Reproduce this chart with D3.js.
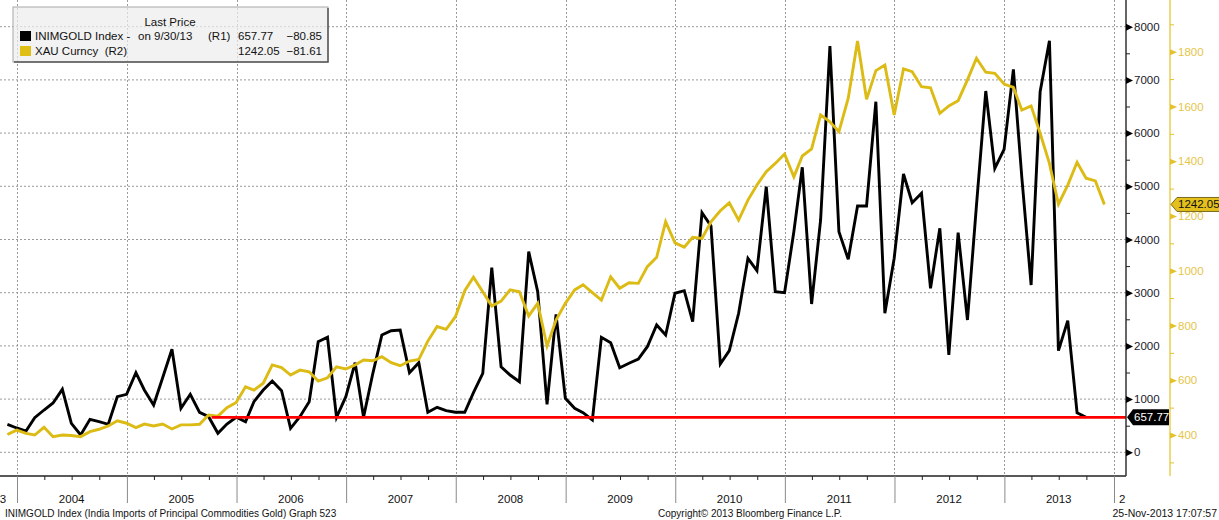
<!DOCTYPE html>
<html>
<head>
<meta charset="utf-8">
<script src="https://cdnjs.cloudflare.com/ajax/libs/d3/7.8.5/d3.min.js"></script>
<style>
body{margin:0;background:#fff;overflow:hidden}
svg{display:block;font-family:"Liberation Sans",Arial,sans-serif}
</style>
</head>
<body>
<svg></svg>
<script>
// monthly data, month-end, first point = Nov 2003
let imports = [526,457,400,650,795,927,1184,545,325,620,575,526,
  1045,1090,1496,1171,889,1400,1936,827,1090,752,669,357,
  532,658,575,951,1171,1340,1158,451,669,951,2079,2162,
  658,1045,1684,658,1485,2205,2286,2299,1496,1684,752,846,
  782,752,752,1120,1485,3470,1609,1453,1327,3771,3019,902,
  2594,1015,827,744,607,2162,2060,1590,1673,1754,1985,2393,
  2205,2989,3038,2455,4504,4254,1660,1910,2613,3647,3414,4992,
  3019,3000,4150,5357,2788,4367,7637,4147,3628,4630,4630,6590,
  2613,3647,5231,4692,4868,3083,4211,1829,4128,2487,4640,6791,
  5338,5695,7199,5170,3144,6778,7737,1910,2474,744,657.77]

let gold = [402,418,406,400,428,394,400,398,394,412,421,433,
  452,443,427,440,433,440,422,437,437,439,473,469,
  500,519,576,564,589,656,646,619,637,631,597,609,
  649,641,656,674,671,686,664,653,670,676,743,796,
  786,832,927,976,923,871,889,930,923,835,881,725,
  820,881,930,949,920,893,978,936,956,954,1015,1049,
  1179,1102,1086,1122,1118,1179,1219,1248,1185,1258,1313,1362,
  1392,1426,1343,1419,1445,1569,1544,1508,1630,1839,1626,1731,
  1751,1569,1737,1727,1672,1668,1575,1602,1621,1697,1776,1725,
  1721,1682,1670,1587,1602,1502,1392,1243,1313,1396,1338,1328,1242.05]

let years = [2004,2005,2006,2007,2008,2009,2010,2011,2012,2013]
let partialLabels = [{text:'3', date:new Date(2003,10,15)}, {text:'2', date:new Date(2014,0,28)}]
let leftTicks = [0,1000,2000,3000,4000,5000,6000,7000,8000]
let rightTicks = [400,600,800,1000,1200,1400,1600,1800]
let lastImports = 657.77
let lastImportsChg = -80.85
let lastGold = 1242.05
let lastGoldChg = -81.61
let redLineStart = new Date(2005,9,10)

let width = 1219
let height = 520
let plotRight = 1126
let plotBottom = 476
let goldAxisX = 1170
let goldColor = '#dcbb14'

let svg = d3.select('svg').attr('width', width).attr('height', height)

let monthEnd = (i) => new Date(2003, 11 + i, 0)

let xBase = d3.scaleTime()
              .domain([new Date(2004,0,1), new Date(2014,0,1)])
              .range([17, 1114])
let xScale = d3.scaleTime()
               .domain([xBase.invert(0), xBase.invert(plotRight)])
               .range([0, plotRight])

let yLeft = d3.scaleLinear().domain([0, 8000]).range([452.3, 26.7])
let yRight = d3.scaleLinear().domain([400, 1800]).range([435, 51.7])

let yearDates = d3.range(2004, 2015).map(y => new Date(y,0,1))

// grid
let grid = svg.append('g')
grid.selectAll('.hg')
    .data(leftTicks)
    .enter()
    .append('line')
    .attr('x1', 0).attr('x2', plotRight)
    .attr('y1', d => yLeft(d)).attr('y2', d => yLeft(d))
    .attr('stroke', '#9a9a9a').attr('stroke-dasharray', '2,2')
grid.selectAll('.vg')
    .data(yearDates)
    .enter()
    .append('line')
    .attr('x1', d => Math.round(xScale(d)) + 0.5).attr('x2', d => Math.round(xScale(d)) + 0.5)
    .attr('y1', 0).attr('y2', plotBottom)
    .attr('stroke', '#9a9a9a').attr('stroke-dasharray', '2,2')

svg.append('clipPath').attr('id', 'plotclip')
   .append('rect').attr('x', 0).attr('y', 0).attr('width', plotRight).attr('height', plotBottom)

let plot = svg.append('g').attr('clip-path', 'url(#plotclip)')

let lineLeft = d3.line().x((d, i) => xScale(monthEnd(i))).y(d => yLeft(d))
let lineRight = d3.line().x((d, i) => xScale(monthEnd(i))).y(d => yRight(d))

plot.append('path')
    .datum(imports)
    .attr('d', lineLeft)
    .attr('fill', 'none').attr('stroke', '#000').attr('stroke-width', 2.9)

plot.append('path')
    .datum(gold)
    .attr('d', lineRight)
    .attr('fill', 'none').attr('stroke', goldColor).attr('stroke-width', 2.9)

plot.append('line')
    .attr('x1', xScale(redLineStart)).attr('x2', plotRight)
    .attr('y1', yLeft(lastImports)).attr('y2', yLeft(lastImports))
    .attr('stroke', '#ff0000').attr('stroke-width', 2.8)

// bottom axis
svg.append('line')
   .attr('x1', 0).attr('x2', plotRight)
   .attr('y1', plotBottom).attr('y2', plotBottom)
   .attr('stroke', '#222').attr('stroke-width', 1.5)

let sepAxis = d3.axisBottom(xScale).tickValues(yearDates).tickSize(27).tickFormat('')
let sepG = svg.append('g').attr('transform', 'translate(0,' + plotBottom + ')').call(sepAxis)
sepG.select('.domain').remove()
sepG.selectAll('line').attr('stroke', '#8a8a8a')

let quarters = d3.timeMonth.range(xScale.domain()[0], xScale.domain()[1], 1)
                 .filter(d => d.getMonth() % 3 === 0 && d.getMonth() !== 0)
let qG = svg.append('g').attr('transform', 'translate(0,' + plotBottom + ')')
            .call(d3.axisBottom(xScale).tickValues(quarters).tickSize(4).tickFormat(''))
qG.select('.domain').remove()
qG.selectAll('line').attr('stroke', '#222')

svg.selectAll('.yearLbl')
   .data(years)
   .enter()
   .append('text')
   .attr('x', d => xScale(new Date(d, 6, 1)))
   .attr('y', 503)
   .attr('text-anchor', 'middle')
   .attr('font-size', '11.5px')
   .attr('fill', '#111')
   .text(d => d)

svg.selectAll('.partLbl')
   .data(partialLabels)
   .enter()
   .append('text')
   .attr('x', d => xScale(d.date))
   .attr('y', 503)
   .attr('text-anchor', 'middle')
   .attr('font-size', '11.5px')
   .attr('fill', '#111')
   .text(d => d.text)

// left (R1) axis
svg.append('line')
   .attr('x1', plotRight).attr('x2', plotRight)
   .attr('y1', 0).attr('y2', plotBottom)
   .attr('stroke', '#333').attr('stroke-width', 1.5)

let lAxis = svg.append('g').attr('transform', 'translate(' + plotRight + ',0)')
               .call(d3.axisRight(yLeft).tickValues(leftTicks).tickSize(0).tickPadding(8).tickFormat(d3.format('d')))
lAxis.select('.domain').remove()
lAxis.selectAll('text').attr('font-size', '11.5px').attr('fill', '#1a1a28').attr('font-family', '"Liberation Sans",Arial,sans-serif')
lAxis.selectAll('.tick').append('path').attr('d', 'M0,-3.5L7,0L0,3.5Z').attr('fill', '#000')

let lMinor = svg.append('g').attr('transform', 'translate(' + plotRight + ',0)')
                .call(d3.axisRight(yLeft).tickValues(d3.range(500, 8000, 1000)).tickSize(4).tickFormat(''))
lMinor.select('.domain').remove()
lMinor.selectAll('line').attr('stroke', '#222')

// right (R2) axis
svg.append('line')
   .attr('x1', goldAxisX).attr('x2', goldAxisX)
   .attr('y1', 0).attr('y2', plotBottom)
   .attr('stroke', '#e3c22a').attr('stroke-width', 1.2)

let rAxis = svg.append('g').attr('transform', 'translate(' + goldAxisX + ',0)')
               .call(d3.axisRight(yRight).tickValues(rightTicks).tickSize(0).tickPadding(8).tickFormat(d3.format('d')))
rAxis.select('.domain').remove()
rAxis.selectAll('text').attr('font-size', '11.5px').attr('fill', '#e6c548').attr('font-family', '"Liberation Sans",Arial,sans-serif')
rAxis.selectAll('.tick').append('path').attr('d', 'M0,-3L7,0L0,3Z').attr('fill', '#e3c22a')

let rMinor = svg.append('g').attr('transform', 'translate(' + goldAxisX + ',0)')
                .call(d3.axisRight(yRight).tickValues(d3.range(300, 2000, 200)).tickSize(4).tickFormat(''))
rMinor.select('.domain').remove()
rMinor.selectAll('line').attr('stroke', '#e3c22a')

// last price tags
let tagL = svg.append('g').attr('transform', 'translate(' + (plotRight + 1) + ',' + yLeft(lastImports) + ')')
tagL.append('path').attr('d', 'M0,0L6,-8H42V8H6Z').attr('fill', '#000')
tagL.append('text').attr('x', 7).attr('y', 4).attr('font-size', '11.5px').attr('fill', '#fff').text(d3.format('.2f')(lastImports))

let tagR = svg.append('g').attr('transform', 'translate(' + (goldAxisX + 1) + ',' + yRight(lastGold) + ')')
tagR.append('path').attr('d', 'M0,0L6,-7H52V7H6Z').attr('fill', '#e3c01c').attr('stroke', '#5a4a00').attr('stroke-width', 0.8)
tagR.append('text').attr('x', 7).attr('y', 4).attr('font-size', '11.5px').attr('fill', '#111').text(d3.format('.2f')(lastGold))

// legend
let lg = svg.append('g').attr('transform', 'translate(13,7)')
lg.append('rect').attr('width', 315).attr('height', 55)
  .attr('fill', '#ececec').attr('fill-opacity', 0.7)
  .attr('stroke', '#a8a8a8')
lg.append('path').attr('d', 'M315,1V55H1').attr('fill', 'none').attr('stroke', '#555').attr('stroke-width', 1.5)
lg.append('text').attr('x', 157).attr('y', 19).attr('text-anchor', 'middle').attr('font-size', '11.5px').attr('fill', '#111').text('Last Price')

let legendRows = [
  {color:'#000', name:'INIMGOLD Index -', date:'on 9/30/13', axis:'(R1)', last:lastImports, chg:lastImportsChg},
  {color:'#e0bf14', name:'XAU Curncy  (R2)', date:'', axis:'', last:lastGold, chg:lastGoldChg}
]
let rows = lg.selectAll('.row').data(legendRows).enter().append('g')
             .attr('transform', (d, i) => 'translate(0,' + (24 + i * 15) + ')')
rows.append('rect').attr('x', 7).attr('y', 0).attr('width', 11).attr('height', 10).attr('fill', d => d.color)
rows.append('text').attr('x', 22).attr('y', 9).attr('font-size', '11.5px').attr('fill', '#111').attr('xml:space', 'preserve').text(d => d.name)
rows.append('text').attr('x', 125).attr('y', 9).attr('font-size', '11.5px').attr('fill', '#111').text(d => d.date)
rows.append('text').attr('x', 195).attr('y', 9).attr('font-size', '11.5px').attr('fill', '#111').text(d => d.axis)
rows.append('text').attr('x', 225).attr('y', 9).attr('font-size', '11.5px').attr('fill', '#111').text(d => d3.format('.2f')(d.last))
rows.append('text').attr('x', 309).attr('y', 9).attr('text-anchor', 'end').attr('font-size', '11.5px').attr('fill', '#111').text(d => d3.format('.2f')(d.chg))

// footer
svg.append('text').attr('x', 5).attr('y', 517).attr('font-size', '10px').attr('fill', '#111')
   .text('INIMGOLD Index (India Imports of Principal Commodities Gold) Graph 523')
svg.append('text').attr('x', 750).attr('y', 517).attr('text-anchor', 'middle').attr('font-size', '10px').attr('fill', '#111')
   .text('Copyright\u00A9 2013 Bloomberg Finance L.P.')
svg.append('text').attr('x', 1217).attr('y', 517).attr('text-anchor', 'end').attr('font-size', '10.5px').attr('fill', '#111')
   .text('25-Nov-2013 17:07:57')
</script>
</body>
</html>
